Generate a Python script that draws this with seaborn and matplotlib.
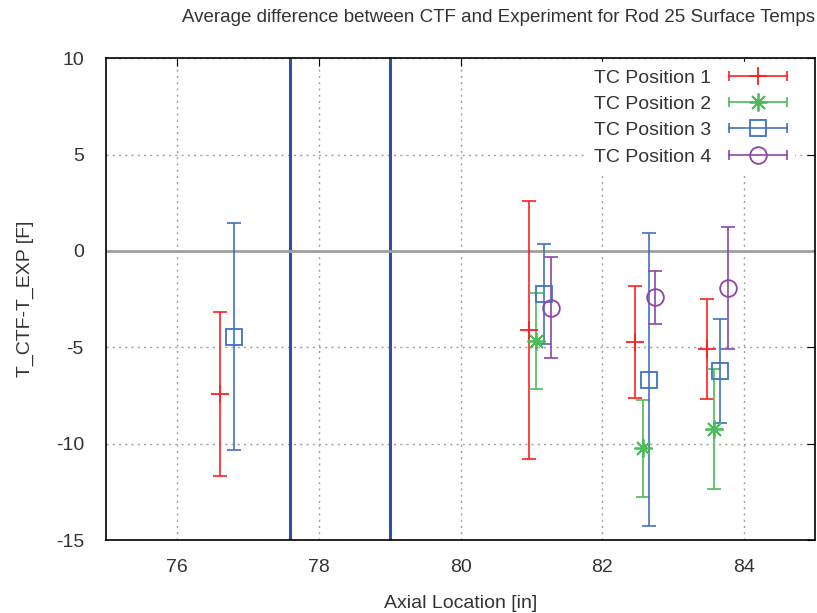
import matplotlib
matplotlib.use('Agg')
import matplotlib.pyplot as plt
from matplotlib.lines import Line2D
import seaborn as sns

# axial location, mean difference and half-width of the error bar per TC position
tc1_x = [76.60, 80.97, 82.46, 83.47]
tc1_y = [-7.42, -4.11, -4.73, -5.08]
tc1_err = [4.27, 6.70, 2.92, 2.58]

tc2_x = [81.07, 82.57, 83.57]
tc2_y = [-4.66, -10.24, -9.22]
tc2_err = [2.48, 2.53, 3.12]

tc3_x = [76.81, 81.17, 82.66, 83.66]
tc3_y = [-4.44, -2.24, -6.68, -6.25]
tc3_err = [5.88, 2.60, 7.60, 2.70]

tc4_x = [81.28, 82.75, 83.77]
tc4_y = [-2.94, -2.40, -1.93]
tc4_err = [2.62, 1.38, 3.15]

labels = ['TC Position 1', 'TC Position 2', 'TC Position 3', 'TC Position 4']
spacer_x = [77.6, 79.0]

sns.set_style('white')
plt.rcParams['font.family'] = ['Liberation Sans', 'DejaVu Sans']
plt.rcParams['axes.unicode_minus'] = False

colors = ['#ff2020', '#4dbb5a', '#3f73c0', '#8e44a8']
markers = ['+', (8, 2, 0), 's', 'o']
sizes = [13, 13, 12, 12]
text_col = '#333333'
fs = 14

series = [(tc1_x, tc1_y, tc1_err), (tc2_x, tc2_y, tc2_err),
          (tc3_x, tc3_y, tc3_err), (tc4_x, tc4_y, tc4_err)]


class ErrBarHandler:
    """legend sample drawn like gnuplot: horizontal bar with caps + point"""
    def legend_artist(self, legend, orig, fontsize, handlebox):
        x0, y0 = handlebox.xdescent, handlebox.ydescent
        w, h = handlebox.width, handlebox.height
        yc = y0 + h / 2
        c = orig.get_color()
        tr = handlebox.get_transform()
        bar = Line2D([x0, x0 + w], [yc, yc], color=c, lw=1.2, transform=tr)
        caps = Line2D([x0, x0 + w], [yc, yc], ls='none', marker='|', ms=7,
                      mew=1.2, color=c, transform=tr)
        pt = Line2D([x0 + w / 2], [yc], ls='none', marker=orig.get_marker(),
                    ms=orig.get_markersize(), mfc='none', mec=c, mew=1.3,
                    transform=tr)
        for a in (bar, caps, pt):
            handlebox.add_artist(a)
        return bar


fig = plt.figure(figsize=(8.17, 6.13), dpi=100)
ax = fig.add_axes([0.130, 0.119, 0.8675, 0.786])

proxies = []
for (x, y, e), c, m, ms in zip(series, colors, markers, sizes):
    ax.errorbar(x, y, yerr=e, fmt='none', ecolor=c, elinewidth=1.2,
                capsize=5, capthick=1.2, zorder=3)
    ax.plot(x, y, linestyle='none', marker=m, markersize=ms,
            markerfacecolor='none', markeredgecolor=c, markeredgewidth=1.3,
            zorder=4)
    proxies.append(Line2D([], [], color=c, marker=m, markersize=ms))

for xv in spacer_x:
    ax.axvline(xv, color='#3050a8', linewidth=2.2, zorder=2)
ax.axhline(0, color='#a0a0a0', linewidth=2, zorder=2)

ax.set_xlim(75, 85)
ax.set_ylim(-15, 10)
ax.set_xticks([76, 78, 80, 82, 84])
ax.set_yticks([10, 5, 0, -5, -10, -15])
ax.grid(True, color='#a0a0a0', linestyle=(0, (1.5, 3)), linewidth=1, zorder=0)
ax.tick_params(direction='in', length=6, top=True, right=True,
               labelsize=fs, colors='black', labelcolor=text_col)
ax.tick_params(axis='x', pad=14)
ax.tick_params(axis='y', pad=16)
for sp in ax.spines.values():
    sp.set_color('black')
    sp.set_linewidth(1.2)

ax.set_xlabel('Axial Location [in]', fontsize=fs, color=text_col, labelpad=13)
ax.set_ylabel('T_CTF-T_EXP [F]', fontsize=fs, color=text_col, labelpad=16)
fig.suptitle('Average difference between CTF and Experiment for Rod 25 Surface Temps',
             x=0.998, y=0.985, ha='right', fontsize=13.5, color=text_col)

hm = {p: ErrBarHandler() for p in proxies}
leg = ax.legend(proxies, labels, loc='upper right', bbox_to_anchor=(0.976, 1.0),
                markerfirst=False, handler_map=hm, frameon=True, fontsize=fs,
                handlelength=3.0, borderaxespad=0.2, labelspacing=0.45,
                handletextpad=0.9, borderpad=0.35)
leg.get_frame().set_edgecolor('white')
leg.get_frame().set_facecolor('white')
leg.get_frame().set_alpha(1)
for t in leg.get_texts():
    t.set_color(text_col)

fig.savefig('out.png', dpi=100)
